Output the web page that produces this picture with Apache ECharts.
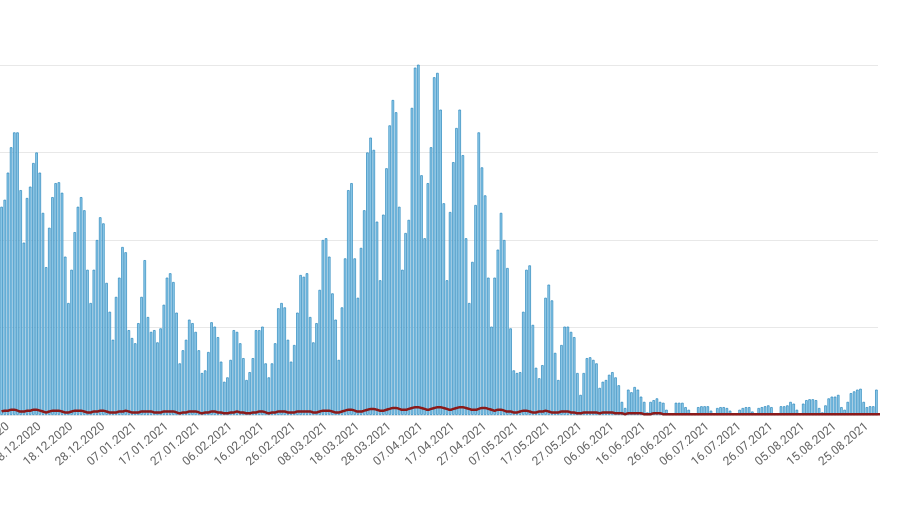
<!DOCTYPE html>
<html><head><meta charset="utf-8">
<script src="https://cdn.jsdelivr.net/npm/echarts@6/dist/echarts.min.js"></script>
<style>html,body{margin:0;padding:0;background:#fff}#c{width:900px;height:505px}</style>
</head><body><div id="c"></div>
<script>
const endDate = '2021-08-28';
const cases = [
238,246,277,306,323,323,257,197,248,261,288,300,277,231,169,214,249,265,266,254,181,128,166,209,238,249,234,166,128,166,
200,226,219,151,118,86,135,157,192,186,97,88,82,105,135,177,112,95,97,83,99,126,157,162,152,117,59,74,86,109,
105,95,74,48,51,72,106,101,89,61,38,43,63,97,95,82,65,40,49,65,97,97,101,59,43,59,82,122,128,123,
86,61,80,117,160,
158,162,112,83,105,143,200,202,181,139,109,63,123,179,257,265,179,134,191,234,300,317,303,221,154,229,282,331,360,346,
238,166,208,223,351,397,406,274,202,265,306,386,391,349,242,154,232,289,328,349,297,202,128,175,240,323,283,251,157,101,
157,189,231,200,168,99,51,48,49,118,166,171,103,54,42,57,134,149,131,71,40,80,101,101,95,89,48,23,48,65,
66,63,59,31,
38,40,46,49,43,34,15,8,29,26,32,29,21,15,3,15,17,19,15,14,6,2,2,14,14,14,9,6,2,2,
9,10,10,10,5,2,8,9,9,8,5,2,2,6,8,9,9,4,2,8,9,10,11,9,2,2,10,10,11,15,
13,6,2,13,17,18,18,17,8,3,11,19,21,21,23,9,6,15,25,27,29,30,15,9,10,10,29
];
const deaths = [
4,5,5,6,6,5,4,4,5,5,6,6,5,4,3,4,5,5,5,4,3,3,4,5,5,5,4,3,3,4,
4,5,5,4,3,3,3,4,4,5,4,3,3,3,4,4,4,4,3,3,3,4,4,4,4,3,2,3,3,4,
4,4,3,2,3,3,4,4,3,3,2,2,3,3,4,3,3,2,2,3,3,4,4,3,2,3,3,4,4,4,
3,3,3,4,4,
4,4,4,3,3,4,5,5,5,4,3,3,4,5,6,6,5,4,4,5,6,7,7,6,5,5,6,7,8,8,
7,6,6,7,8,9,9,8,7,6,7,8,9,9,8,7,6,7,8,9,9,8,7,6,6,7,8,8,7,6,
5,6,6,5,4,4,3,3,4,5,5,4,3,3,4,4,5,4,3,3,3,4,4,4,3,3,2,2,3,3,
3,3,3,2,
3,3,3,3,2,2,2,1,2,2,2,2,2,1,1,1,2,2,2,1,1,1,1,1,1,1,1,1,1,1,
1,1,1,1,1,1,1,1,1,1,1,1,1,1,1,1,1,1,1,1,1,1,1,1,1,1,1,1,1,1,
1,1,1,1,1,1,1,1,1,1,1,1,1,1,1,1,1,1,1,1,1,1,1,1,1,1,1,1,1,1,1
];
const labelAnchor = '2020-12-08';

function fmt(d){const p=n=>String(n).padStart(2,'0');return p(d.getUTCDate())+'.'+p(d.getUTCMonth()+1)+'.'+d.getUTCFullYear();}
const n = cases.length;
const end = new Date(endDate+'T00:00:00Z');
const dates = [], dayNums = [];
for(let i=0;i<n;i++){const d=new Date(end.getTime()-(n-1-i)*86400000);dates.push(fmt(d));dayNums.push(Math.round(d.getTime()/86400000));}
const anchorNum = Math.round(new Date(labelAnchor+'T00:00:00Z').getTime()/86400000);

const chart = echarts.init(document.getElementById('c'));
chart.setOption({
  animation:false,
  grid:{left:0,right:22,top:65,bottom:90,containLabel:false,outerBoundsMode:'none'},
  xAxis:{type:'category',data:dates,boundaryGap:true,
    axisLine:{show:false},axisTick:{show:false},
    axisLabel:{rotate:40,color:'#666',fontSize:12,fontFamily:'Roboto',margin:10,hideOverlap:false,
      interval:(i)=>((dayNums[i]-anchorNum)%10+10)%10===0}},
  yAxis:{type:'value',min:0,max:400,interval:100,axisLabel:{show:false},
    axisLine:{show:false},axisTick:{show:false},splitLine:{lineStyle:{color:'#e8e8e8'}}},
  series:[
    {type:'bar',data:cases,barCategoryGap:'20%',
      itemStyle:{color:'#93cdec',borderColor:'#2a86bc',borderWidth:0.7}},
    {type:'line',data:deaths,symbol:'none',smooth:true,
      lineStyle:{color:'#8b1a1a',width:2.5}}
  ]
});
</script></body></html>
